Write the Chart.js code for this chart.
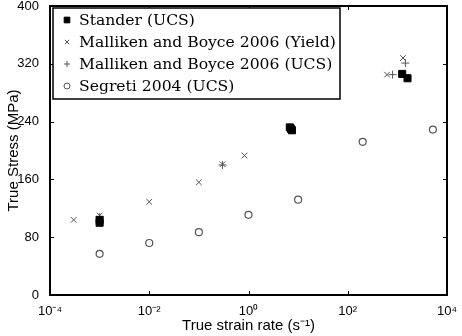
<!DOCTYPE html>
<html>
<head>
<meta charset="utf-8">
<script src="https://cdn.jsdelivr.net/npm/chart.js@4.4.1/dist/chart.umd.min.js"></script>
<style>
  body { margin: 0; background: #fff; }
  #wrap { width: 462px; height: 336px; }
</style>
</head>
<body>
<div id="wrap"><canvas id="chart" width="462" height="336"></canvas></div>
<script>
// Stander (UCS)
const standerX = [1e-3, 1e-3, 6.8, 7.5, 7.2, 1250, 1600];
const standerY = [100, 104, 232, 228, 230, 306, 300];
// Malliken and Boyce 2006 (Yield)
const yieldX = [3e-4, 1e-3, 1e-2, 0.1, 0.3, 0.83, 620, 1300];
const yieldY = [104, 110, 129, 156, 181, 193, 305, 328];
// Malliken and Boyce 2006 (UCS)
const ucsX = [1e-3, 0.3, 800, 1450];
const ucsY = [108, 180, 305, 321];
// Segreti 2004 (UCS)
const segX = [1e-3, 1e-2, 0.1, 1, 10, 200, 5200];
const segY = [57, 72, 87, 111, 132, 212, 229];

const xTicks = [1e-4, 1e-2, 1, 1e2, 1e4];
const yTicks = [0, 80, 160, 240, 320, 400];

const sup = { '-': '\u207B', '0': '\u2070', '1': '\u00B9', '2': '\u00B2', '4': '\u2074' };
const toPts = (xs, ys) => xs.map((x, i) => ({ x, y: ys[i] }));

const sansFont = "'Liberation Sans', Arial, sans-serif";
const serifFont = "'DejaVu Serif', 'Liberation Serif', serif";

// box + inward ticks, matlab style
const framePlugin = {
    id: 'frame',
    afterDraw(chart) {
        const { ctx, chartArea: a, scales } = chart;
        ctx.save();
        ctx.strokeStyle = '#000';
        ctx.lineWidth = 1;
        xTicks.forEach(v => {
            const px = Math.round(scales.x.getPixelForValue(v)) + 0.5;
            ctx.beginPath();
            ctx.moveTo(px, a.bottom); ctx.lineTo(px, a.bottom - 4);
            ctx.moveTo(px, a.top); ctx.lineTo(px, a.top + 4);
            ctx.stroke();
        });
        yTicks.forEach(v => {
            const py = Math.round(scales.y.getPixelForValue(v)) + 0.5;
            ctx.beginPath();
            ctx.moveTo(a.left, py); ctx.lineTo(a.left + 4, py);
            ctx.moveTo(a.right, py); ctx.lineTo(a.right - 4, py);
            ctx.stroke();
        });
        ctx.lineWidth = 2;
        ctx.strokeRect(a.left, a.top, a.right - a.left, a.bottom - a.top);

        // legend box
        const lx = 53, ly = 8, lw = 287, lh = 91;
        ctx.fillStyle = '#fff';
        ctx.fillRect(lx, ly, lw, lh);
        ctx.lineWidth = 1.5;
        ctx.strokeRect(lx, ly, lw, lh);
        ctx.font = '15.6px ' + serifFont;
        ctx.textBaseline = 'middle';
        chart.data.datasets.forEach((ds, i) => {
            const cy = 20 + i * 22;
            ctx.fillStyle = ds.pointBackgroundColor || 'rgba(0,0,0,0)';
            ctx.strokeStyle = ds.pointBorderColor;
            ctx.lineWidth = 1;
            Chart.helpers.drawPoint(ctx, {
                pointStyle: ds.pointStyle,
                radius: ds.pointStyle === 'rect' ? 4 : 3,
                borderWidth: 1
            }, 67, cy);
            ctx.fillStyle = '#000';
            ctx.fillText(ds.label, 79, cy + 1);
        });
        ctx.restore();
    }
};

new Chart(document.getElementById('chart'), {
    type: 'scatter',
    data: {
        datasets: [
            {
                label: 'Stander (UCS)',
                data: toPts(standerX, standerY),
                pointStyle: 'rect',
                pointRadius: 5,
                pointBackgroundColor: '#000',
                pointBorderColor: '#000',
                pointBorderWidth: 1
            },
            {
                label: 'Malliken and Boyce 2006 (Yield)',
                data: toPts(yieldX, yieldY),
                pointStyle: 'crossRot',
                pointRadius: 4,
                pointBackgroundColor: 'rgba(0,0,0,0)',
                pointBorderColor: '#555',
                pointBorderWidth: 1
            },
            {
                label: 'Malliken and Boyce 2006 (UCS)',
                data: toPts(ucsX, ucsY),
                pointStyle: 'cross',
                pointRadius: 4,
                pointBackgroundColor: 'rgba(0,0,0,0)',
                pointBorderColor: '#555',
                pointBorderWidth: 1
            },
            {
                label: 'Segreti 2004 (UCS)',
                data: toPts(segX, segY),
                pointStyle: 'circle',
                pointRadius: 3.5,
                pointBackgroundColor: 'rgba(0,0,0,0)',
                pointBorderColor: '#555',
                pointBorderWidth: 1.2
            }
        ]
    },
    options: {
        responsive: false,
        animation: false,
        layout: { padding: { left: 0, top: 5, right: 15, bottom: 0 } },
        plugins: { legend: { display: false }, tooltip: { enabled: false } },
        scales: {
            x: {
                type: 'logarithmic',
                min: 1e-4,
                max: 1e4,
                afterBuildTicks: s => { s.ticks = xTicks.map(v => ({ value: v })); },
                afterFit: s => { s.height = 41; s.paddingLeft = 0; s.paddingRight = 0; },
                grid: { display: false },
                border: { display: false },
                ticks: {
                    color: '#000',
                    font: { family: sansFont, size: 13 },
                    padding: 1,
                    maxRotation: 0,
                    callback: v => '10' + String(Math.round(Math.log10(v))).split('').map(c => sup[c]).join('')
                },
                title: {
                    display: true,
                    text: 'True strain rate (s\u207B\u00B9)',
                    color: '#000',
                    font: { family: sansFont, size: 15 },
                    padding: { top: 0, bottom: 1 }
                }
            },
            y: {
                min: 0,
                max: 400,
                afterBuildTicks: s => { s.ticks = yTicks.map(v => ({ value: v })); },
                afterFit: s => { s.width = 50; s.paddingTop = 0; s.paddingBottom = 0; },
                grid: { display: false },
                border: { display: false },
                ticks: {
                    color: '#000',
                    font: { family: sansFont, size: 13 },
                    padding: 3
                },
                title: {
                    display: true,
                    text: 'True Stress (MPa)',
                    color: '#000',
                    font: { family: sansFont, size: 15 },
                    padding: { top: 5, bottom: 0 }
                }
            }
        }
    },
    plugins: [framePlugin]
});
</script>
</body>
</html>
